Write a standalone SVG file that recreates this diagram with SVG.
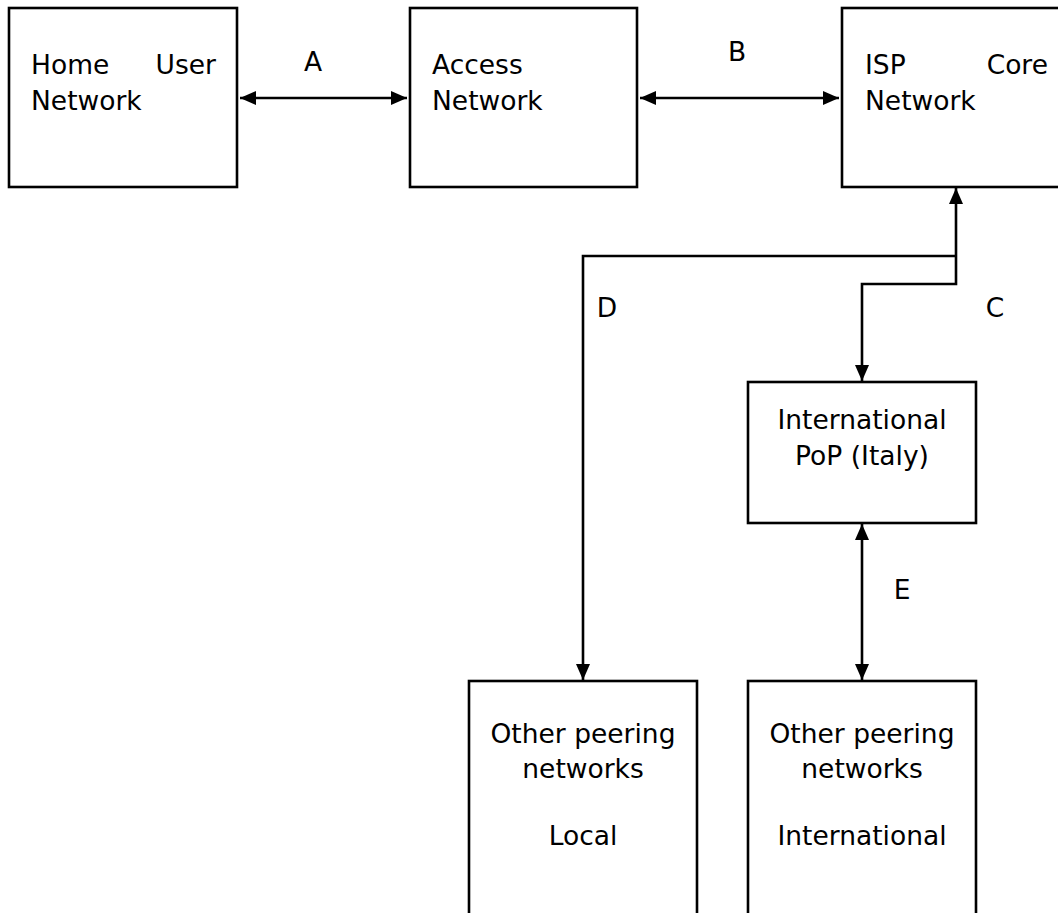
<svg xmlns="http://www.w3.org/2000/svg" width="1058" height="913" viewBox="0 0 1058 913">
<style>
.box{fill:#fff;stroke:#000;stroke-width:2.6}
.t{font-family:"DejaVu Sans",Verdana,sans-serif;font-size:26.5px;fill:#000}
.c{text-anchor:middle}
.e{text-anchor:end}
.ln{fill:none;stroke:#000;stroke-width:2.6}
</style>
<defs>
<marker id="ah" viewBox="0 0 16 14" refX="16" refY="7" markerWidth="16" markerHeight="14" markerUnits="userSpaceOnUse" orient="auto-start-reverse">
<path d="M0,0 L16,7 L0,14 Z" fill="#000"/>
</marker>
</defs>
<rect width="1058" height="913" fill="#fff"/>
<g id="home">
<rect class="box" x="9" y="8" width="228" height="179"/>
<text class="t" x="31" y="74">Home</text>
<text class="t e" x="216" y="74">User</text>
<text class="t" x="31" y="110">Network</text>
</g>
<g id="access">
<rect class="box" x="410" y="8" width="227" height="179"/>
<text class="t" x="432" y="74">Access</text>
<text class="t" x="432" y="110">Network</text>
</g>
<g id="isp">
<rect class="box" x="842" y="8" width="230" height="179"/>
<text class="t" x="865" y="74">ISP</text>
<text class="t e" x="1048" y="74">Core</text>
<text class="t" x="865" y="110">Network</text>
</g>
<g id="pop">
<rect class="box" x="748" y="382" width="228" height="141"/>
<text class="t c" x="862" y="429">International</text>
<text class="t c" x="862" y="465">PoP (Italy)</text>
</g>
<g id="local">
<rect class="box" x="469" y="681" width="228" height="250"/>
<text class="t c" x="583" y="743">Other peering</text>
<text class="t c" x="583" y="778">networks</text>
<text class="t c" x="583" y="845">Local</text>
</g>
<g id="intl">
<rect class="box" x="748" y="681" width="228" height="250"/>
<text class="t c" x="862" y="743">Other peering</text>
<text class="t c" x="862" y="778">networks</text>
<text class="t c" x="862" y="845">International</text>
</g>
<g id="connectors">
<line class="ln" x1="240" y1="98" x2="407" y2="98" marker-start="url(#ah)" marker-end="url(#ah)"/>
<line class="ln" x1="640" y1="98" x2="839" y2="98" marker-start="url(#ah)" marker-end="url(#ah)"/>
<path class="ln" d="M956,256 L956,188" marker-end="url(#ah)"/>
<path class="ln" d="M956,256 L583,256 L583,680" marker-end="url(#ah)"/>
<path class="ln" d="M956,256 L956,284 L862,284 L862,381" marker-end="url(#ah)"/>
<line class="ln" x1="862" y1="524" x2="862" y2="680" marker-start="url(#ah)" marker-end="url(#ah)"/>
<text class="t c" x="313" y="71">A</text>
<text class="t c" x="737" y="61">B</text>
<text class="t c" x="995" y="317">C</text>
<text class="t c" x="607" y="317">D</text>
<text class="t c" x="902" y="599">E</text>
</g>
</svg>
